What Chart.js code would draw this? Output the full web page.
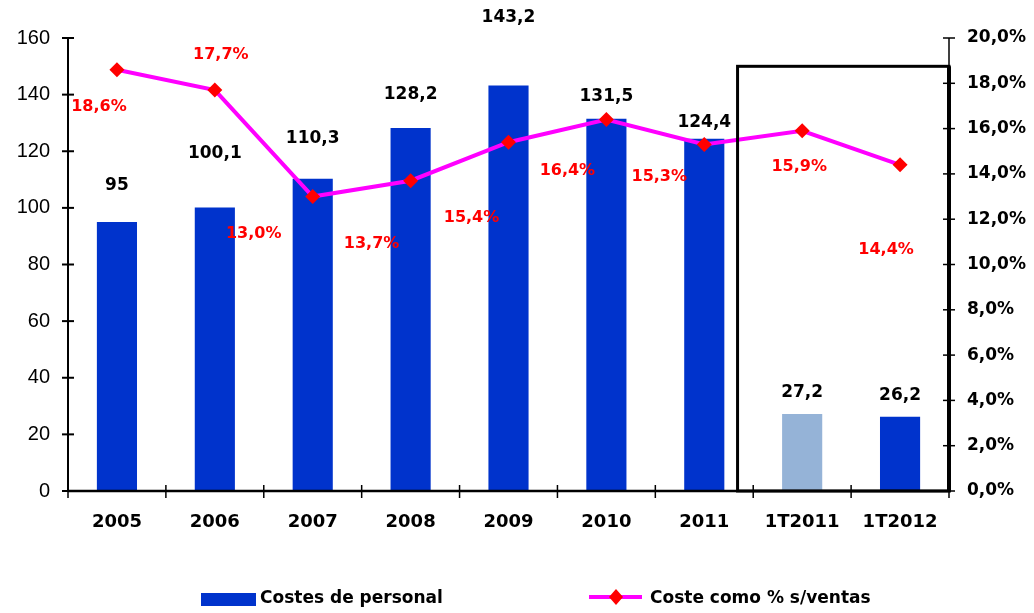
<!DOCTYPE html>
<html><head><meta charset="utf-8">
<script src="https://cdn.jsdelivr.net/npm/chart.js@4"></script>
<style>html,body{margin:0;padding:0;background:#fff}canvas{display:block}</style>
</head><body>
<canvas id="c" width="1034" height="613"></canvas>
<script>
const categories = ['2005','2006','2007','2008','2009','2010','2011','1T2011','1T2012'];
const costes = [95, 100.1, 110.3, 128.2, 143.2, 131.5, 124.4, 27.2, 26.2];
const pctVentas = [18.6, 17.7, 13.0, 13.7, 15.4, 16.4, 15.3, 15.9, 14.4];
const barLabels = ['95','100,1','110,3','128,2','143,2','131,5','124,4','27,2','26,2'];
const pctLabels = ['18,6%','17,7%','13,0%','13,7%','15,4%','16,4%','15,3%','15,9%','14,4%'];
const seriesNames = ['Costes de personal', 'Coste como % s/ventas'];

// label placement (style/layout only)
const barLabelDy = [-36,-54,-40,-33,-68,-22,-16,-21,-21];
const pctLabelDx = [-18, 6,-59,-39,-37,-39,-45,-3,-14];
const pctLabelDy = [37,-35,37,63,76,51,32,36,85];

const BLUE = '#0033CC', LIGHT = '#95B3D7', MAG = '#FF00FF', RED = '#FF0000';
const BOLD = 'bold 17px "DejaVu Sans"';

const overlay = {
  id: 'overlay',
  afterDatasetsDraw(chart) {
    const ctx = chart.ctx, ca = chart.chartArea;
    const x = chart.scales.x, yl = chart.scales.yl, yr = chart.scales.yr;
    const step = x.getPixelForValue(1) - x.getPixelForValue(0);
    ctx.save();
    ctx.strokeStyle = '#000';
    // box around quarterly data
    const bx = x.getPixelForValue(6) + 0.34 * step;
    const by = yl.getPixelForValue(150);
    ctx.lineWidth = 3;
    ctx.strokeRect(bx, by, ca.right - bx, ca.bottom - by);
    // left axis
    ctx.lineWidth = 2;
    ctx.beginPath(); ctx.moveTo(ca.left, ca.top); ctx.lineTo(ca.left, ca.bottom); ctx.stroke();
    yl.ticks.forEach(t => { const p = yl.getPixelForValue(t.value);
      ctx.beginPath(); ctx.moveTo(ca.left - 6, p); ctx.lineTo(ca.left + 6, p); ctx.stroke(); });
    // right axis
    ctx.lineWidth = 1.5;
    ctx.beginPath(); ctx.moveTo(ca.right, ca.top); ctx.lineTo(ca.right, ca.bottom); ctx.stroke();
    yr.ticks.forEach(t => { const p = yr.getPixelForValue(t.value);
      ctx.beginPath(); ctx.moveTo(ca.right - 6, p); ctx.lineTo(ca.right + 6, p); ctx.stroke(); });
    ctx.lineWidth = 4;
    ctx.beginPath(); ctx.moveTo(ca.right, by); ctx.lineTo(ca.right, ca.bottom); ctx.stroke();
    // bottom axis
    ctx.lineWidth = 2.5;
    ctx.beginPath(); ctx.moveTo(ca.left, ca.bottom); ctx.lineTo(ca.right + 2, ca.bottom); ctx.stroke();
    ctx.lineWidth = 1.5;
    for (let i = 0; i <= categories.length; i++) {
      const p = x.getPixelForValue(0) - step / 2 + i * step;
      ctx.beginPath(); ctx.moveTo(p, ca.bottom - 6); ctx.lineTo(p, ca.bottom + 7); ctx.stroke();
    }
    // value labels
    ctx.textAlign = 'center'; ctx.textBaseline = 'middle';
    ctx.font = BOLD; ctx.fillStyle = '#000';
    costes.forEach((v, i) => {
      ctx.fillText(barLabels[i], x.getPixelForValue(i), yl.getPixelForValue(v) + barLabelDy[i]);
    });
    ctx.font = 'bold 16px "DejaVu Sans"'; ctx.fillStyle = RED;
    pctVentas.forEach((v, i) => {
      ctx.fillText(pctLabels[i], x.getPixelForValue(i) + pctLabelDx[i], yr.getPixelForValue(v) + pctLabelDy[i]);
    });
    // legend
    const ly = 599;
    ctx.fillStyle = BLUE; ctx.fillRect(201, ly - 6, 55, 13);
    ctx.font = BOLD; ctx.fillStyle = '#000'; ctx.textAlign = 'left';
    ctx.fillText(seriesNames[0], 260, ly);
    ctx.strokeStyle = MAG; ctx.lineWidth = 4;
    ctx.beginPath(); ctx.moveTo(589, ly - 2); ctx.lineTo(642, ly - 2); ctx.stroke();
    ctx.fillStyle = RED;
    ctx.beginPath(); ctx.moveTo(616, ly - 10); ctx.lineTo(623, ly - 2); ctx.lineTo(616, ly + 6); ctx.lineTo(609, ly - 2); ctx.closePath(); ctx.fill();
    ctx.fillStyle = '#000';
    ctx.fillText(seriesNames[1], 650, ly);
    ctx.restore();
  }
};

new Chart(document.getElementById('c'), {
  data: {
    labels: categories,
    datasets: [
      { type: 'line', label: seriesNames[1], data: pctVentas, yAxisID: 'yr', order: 1,
        borderColor: MAG, borderWidth: 4, pointStyle: 'rectRot', pointRadius: 7.5,
        pointBackgroundColor: RED, pointBorderWidth: 0, tension: 0 },
      { type: 'bar', label: seriesNames[0], data: costes, yAxisID: 'yl', order: 2,
        backgroundColor: costes.map((v, i) => i === 7 ? LIGHT : BLUE),
        barPercentage: 0.41, categoryPercentage: 1 }
    ]
  },
  options: {
    responsive: false, animation: false, devicePixelRatio: 1,
    layout: { padding: { top: 38, left: 0, right: 0, bottom: 0 } },
    plugins: { legend: { display: false }, tooltip: { enabled: false } },
    scales: {
      x: { offset: true, grid: { display: false, drawTicks: false }, border: { display: false },
        ticks: { color: '#000', font: { family: 'DejaVu Sans', weight: 'bold', size: 18 }, padding: 21, maxRotation: 0 },
        afterFit(s) { s.height = 122; } },
      yl: { position: 'left', min: 0, max: 160, grid: { display: false, drawTicks: false }, border: { display: false },
        ticks: { stepSize: 20, color: '#000', font: { family: 'Liberation Sans', size: 20 }, padding: 18 },
        afterFit(s) { s.width = 68; } },
      yr: { position: 'right', min: 0, max: 20, grid: { display: false, drawTicks: false }, border: { display: false },
        ticks: { stepSize: 2, color: '#000', font: { family: 'DejaVu Sans', weight: 'bold', size: 17 }, padding: 18,
          callback: v => v.toFixed(1).replace('.', ',') + '%' },
        afterFit(s) { s.width = 85; } }
    }
  },
  plugins: [overlay]
});
</script>
</body></html>
